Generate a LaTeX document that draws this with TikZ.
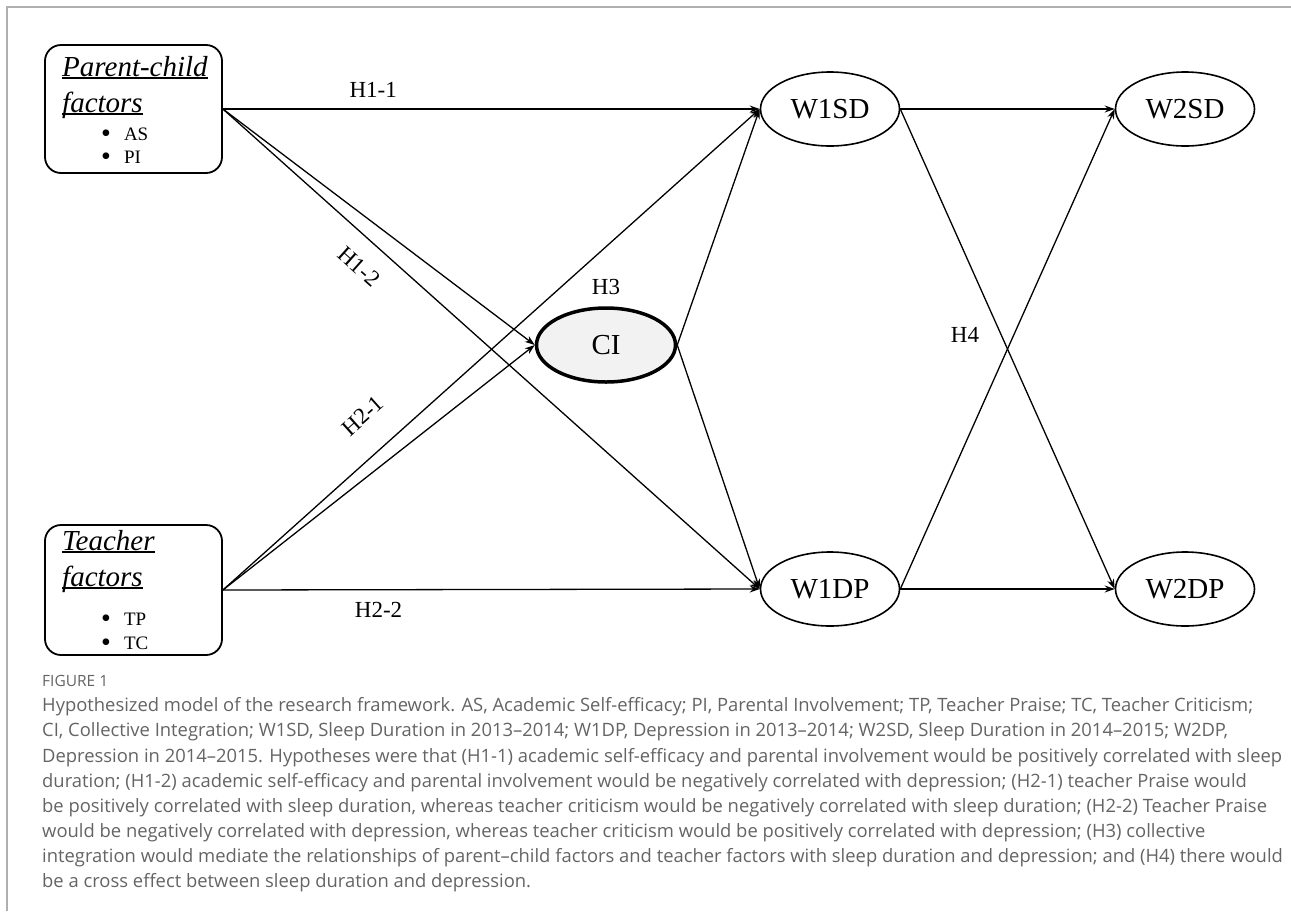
\documentclass[tikz,border=0pt]{standalone}
\usepackage{fontspec}
\setmainfont{Liberation Serif}
\newfontfamily\capfont{Open Sans}
\usetikzlibrary{arrows.meta, positioning, shapes.geometric}

\definecolor{cifill}{RGB}{242,242,242}
\definecolor{capgray}{RGB}{100,100,100}
\definecolor{framegray}{RGB}{175,175,175}

% underline drawn close to the baseline
\newcommand{\factorline}[1]{\setbox0\hbox{#1}\rlap{\rule[-2.5pt]{\wd0}{1.4pt}}\box0}
% larger list bullet
\newcommand{\factorbullet}{\raisebox{-2.5pt}{\fontsize{28}{28}\selectfont\textbullet}}

\tikzset{
  factor/.style = {draw, rounded corners=16pt, line width=1.8pt, minimum width=177pt, minimum height=128pt, inner sep=0pt},
  wave/.style = {draw, ellipse, line width=1.6pt, minimum width=139pt, minimum height=74pt, inner sep=0pt, font=\fontsize{29}{34}\selectfont},
  hyp/.style = {font=\fontsize{23}{27}\selectfont},
  hyparrow/.style = {-{Stealth[length=10pt, width=7pt]}, line width=1.3pt},
  heading/.style = {anchor=base west, inner sep=0pt, font=\fontsize{29}{34}\selectfont\itshape},
  bulletitem/.style = {anchor=base west, inner sep=0pt, font=\fontsize{19}{23}\selectfont},
  capline/.style = {anchor=base west, inner sep=0pt, text=capgray, font=\capfont\fontsize{18.4}{22}\selectfont},
}

\begin{document}
\begin{tikzpicture}[x=1pt, y=-1pt, node distance=355pt, on grid]

    \useasboundingbox (0,0) rectangle (1291,911);
    \draw [framegray, line width=1.5pt] (7,911) -- (7,7) -- (1291,7);

    % factor boxes
    \node (pc) [factor] at (133.5,109) {};
    \node (tf) [factor, minimum height=130pt, below=481pt of pc] {};

    \node (pchead) [heading] at (62,76) {\factorline{Parent-child}};
    \node (pcsub) [heading] at (62,112) {\factorline{factors}};
    \node (as) [bulletitem] at (101,140) {\factorbullet\hspace{13pt}AS};
    \node (pi) [bulletitem] at (101,163) {\factorbullet\hspace{13pt}PI};

    \node (tfhead) [heading] at (62,550) {\factorline{Teacher}};
    \node (tfsub) [heading] at (62,586) {\factorline{factors}};
    \node (tp) [bulletitem] at (101,625) {\factorbullet\hspace{13pt}TP};
    \node (tc) [bulletitem] at (101,649) {\factorbullet\hspace{13pt}TC};

    % latent variables
    \node (ci) [wave, fill=cifill, line width=3.5pt] at (606,345) {CI};
    \node (w1sd) [wave] at (830,109) {W1SD};
    \node (w2sd) [wave, right=of w1sd] {W2SD};
    \node (w1dp) [wave, below=480pt of w1sd] {W1DP};
    \node (w2dp) [wave, right=of w1dp] {W2DP};

    \node (h3) [hyp, above=58pt of ci] {H3};
    \node (h4) [hyp] at (965,335) {H4};

    \path [hyparrow] (pc.east) edge node [hyp, pos=0.28, above=8pt] {H1-1} (w1sd.west);
    \path [hyparrow] (pc.east) edge (ci.west);
    \path [hyparrow] (pc.east) edge node [hyp, pos=0.287, sloped, below=15pt] {H1-2} (w1dp.west);
    \path [hyparrow] (tf.east) edge node [hyp, pos=0.306, sloped, above=25pt] {H2-1} (w1sd.west);
    \path [hyparrow] (tf.east) edge (ci.west);
    \path [hyparrow] (tf.east) edge node [hyp, pos=0.29, below=9pt] {H2-2} (w1dp.west);
    \path [hyparrow] (ci.east) edge (w1sd.west);
    \path [hyparrow] (ci.east) edge (w1dp.west);
    \path [hyparrow] (w1sd.east) edge (w2sd.west);
    \path [hyparrow] (w1sd.east) edge (w2dp.west);
    \path [hyparrow] (w1dp.east) edge (w2sd.west);
    \path [hyparrow] (w1dp.east) edge (w2dp.west);

    % caption
    \node (figno) [capline, font=\capfont\fontsize{15.5}{18}\selectfont] at (42,686) {FIGURE 1};
    \node (cap1) [capline] at (42,711) {Hypothesized model of the research framework. AS, Academic Self-efficacy; PI, Parental Involvement; TP, Teacher Praise; TC, Teacher Criticism;};
    \node (cap2) [capline] at (42,736.5) {CI, Collective Integration; W1SD, Sleep Duration in 2013–2014; W1DP, Depression in 2013–2014; W2SD, Sleep Duration in 2014–2015; W2DP,};
    \node (cap3) [capline] at (42,762) {Depression in 2014–2015. Hypotheses were that (H1-1) academic self-efficacy and parental involvement would be positively correlated with sleep};
    \node (cap4) [capline] at (42,787) {duration; (H1-2) academic self-efficacy and parental involvement would be negatively correlated with depression; (H2-1) teacher Praise would};
    \node (cap5) [capline] at (42,812) {be positively correlated with sleep duration, whereas teacher criticism would be negatively correlated with sleep duration; (H2-2) Teacher Praise};
    \node (cap6) [capline] at (42,837) {would be negatively correlated with depression, whereas teacher criticism would be positively correlated with depression; (H3) collective};
    \node (cap7) [capline] at (42,862) {integration would mediate the relationships of parent–child factors and teacher factors with sleep duration and depression; and (H4) there would};
    \node (cap8) [capline] at (42,887) {be a cross effect between sleep duration and depression.};

\end{tikzpicture}
\end{document}
